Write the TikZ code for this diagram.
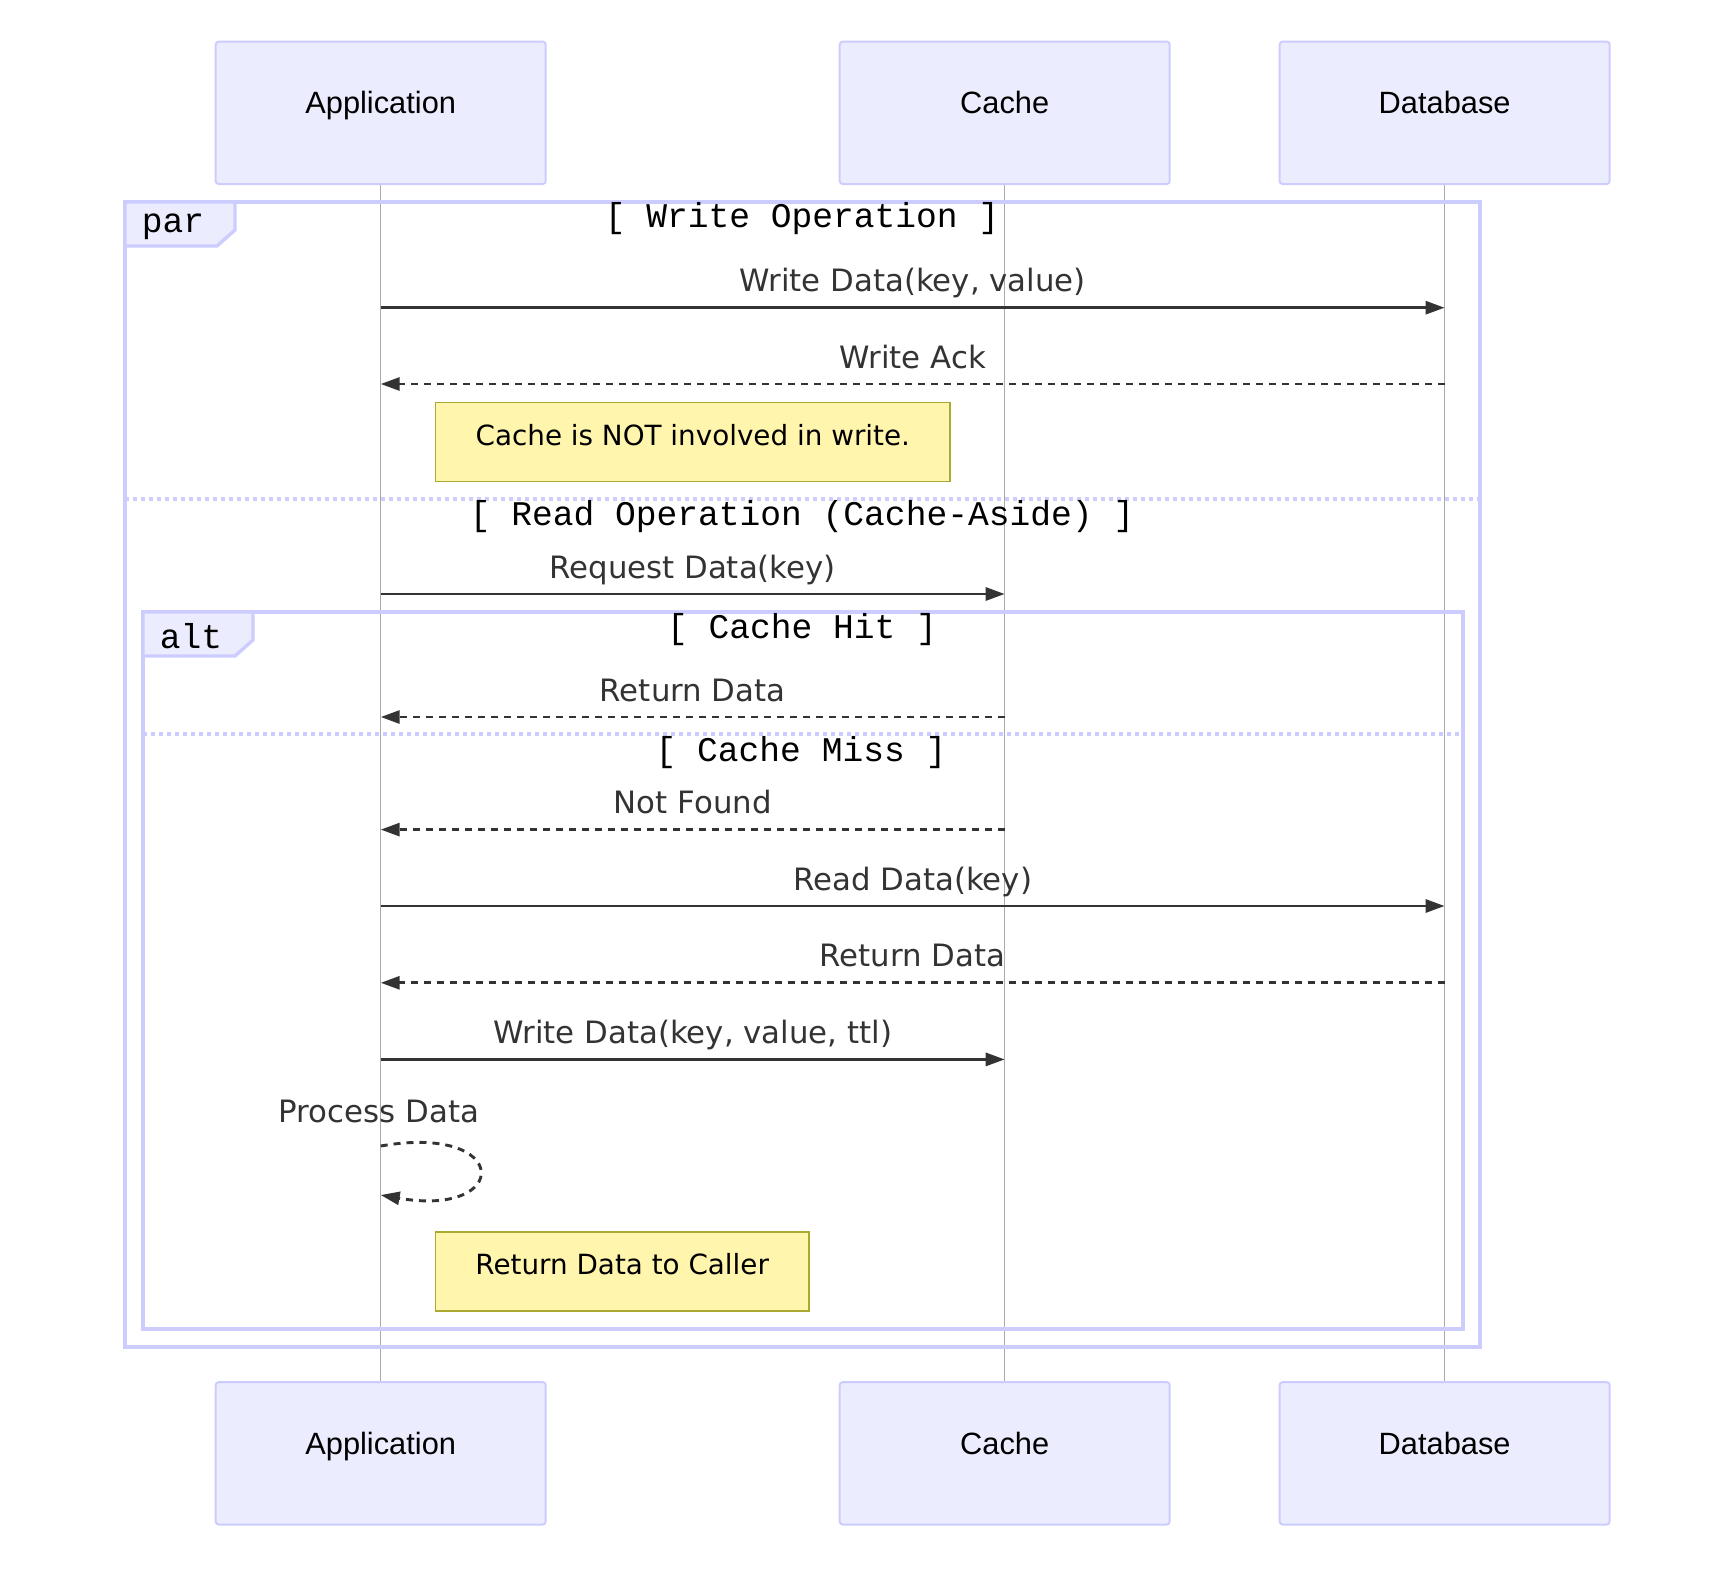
\documentclass[tikz,border=0pt]{standalone}
\usepackage{fontspec}
\setmainfont{DejaVu Sans}
\newfontfamily\actorfont{Liberation Sans}
\newfontfamily\framefont{Liberation Mono}
\usepackage{tikz}
\usetikzlibrary{arrows.meta}
\definecolor{actorfill}{HTML}{ECECFF}
\definecolor{actorline}{HTML}{CCCCFF}
\definecolor{lifegray}{HTML}{AAAAAA}
\definecolor{msgcol}{HTML}{333333}
\definecolor{notefill}{HTML}{FFF5AD}
\definecolor{noteline}{HTML}{AAAA33}
\tikzstyle{actorbox} = [draw=actorline, fill=actorfill, line width=1pt, rounded corners=1.5pt, minimum width=165pt, minimum height=71.2pt, text height=1pt, text depth=0pt, font=\actorfont\fontsize{15.4}{18}\selectfont]
\tikzstyle{lifeline} = [draw=lifegray, line width=0.75pt]
\tikzstyle{msgline} = [draw=msgcol, line width=1.45pt, -{Triangle[length=9.5pt,width=6.5pt]}]
\tikzstyle{replyline} = [msgline, dash pattern=on 3.5pt off 3pt]
\tikzstyle{msgtext} = [font=\fontsize{15.4}{18}\selectfont, text=msgcol, inner sep=0pt]
\tikzstyle{msglabel} = [msgtext, anchor=base, yshift=8pt]
\tikzstyle{sdframe} = [draw=actorline, line width=1.7pt]
\tikzstyle{sddivider} = [draw=actorline, line width=1.7pt, dash pattern=on 2pt off 2pt]
\tikzstyle{sdtag} = [font=\framefont\fontsize{17.3}{20}\selectfont, inner sep=0pt]
\tikzstyle{notebox} = [draw=noteline, fill=notefill, line width=0.75pt, text height=3pt, text depth=0pt, font=\fontsize{13.9}{16}\selectfont]

\begin{document}
\begin{tikzpicture}[x=0.5pt, y=-0.5pt]
  \useasboundingbox (0,0) rectangle (1716,1584);

  % participants
  \node[actorbox] (appTop)   at (380.7,112.8)  {Application};
  \node[actorbox] (cacheTop) at (1004.7,112.8) {Cache};
  \node[actorbox] (dbTop)    at (1444.6,112.8) {Database};
  \node[actorbox] (appBot)   at (380.7,1453.3)  {Application};
  \node[actorbox] (cacheBot) at (1004.7,1453.3) {Cache};
  \node[actorbox] (dbBot)    at (1444.6,1453.3) {Database};
  \draw[lifeline] (appTop) -- (appBot);
  \draw[lifeline] (cacheTop) -- (cacheBot);
  \draw[lifeline] (dbTop) -- (dbBot);

  % message rows
  \coordinate (m1) at (0,307.7);
  \coordinate (m2) at (0,384);
  \coordinate (m3) at (0,594);
  \coordinate (m4) at (0,717);
  \coordinate (m5) at (0,829.6);
  \coordinate (m6) at (0,906);
  \coordinate (m7) at (0,982.8);
  \coordinate (m8) at (0,1059.4);
  \coordinate (m9a) at (0,1146);
  \coordinate (m9b) at (0,1195);

  % par frame
  \draw[sdframe] (125,202) rectangle (1480,1347);
  \draw[sdframe, fill=actorfill] (125,202) -- (235,202) -- (235,230) -- (217,246) -- (125,246) -- cycle;
  \node[sdtag] (parTag) at (173,227) {par};
  \node[sdtag] (parWrite) at (802,219) {[ Write Operation ]};
  \draw[sddivider] (125,499) -- (1480,499);
  \node[sdtag] (parRead) at (802,516.5) {[ Read Operation (Cache-Aside) ]};

  \draw[msgline] (appTop |- m1) -- node[msglabel] (l1) {Write Data(key, value)} (dbTop |- m1);
  \draw[replyline] (dbTop |- m2) -- node[msglabel] (l2) {Write Ack} (appTop |- m2);
  \node[notebox, minimum width=257.2pt, minimum height=39.4pt] (note1) at (692.8,442.1) {Cache is NOT involved in write.};

  \draw[msgline] (appTop |- m3) -- node[msglabel] (l3) {Request Data(key)} (cacheTop |- m3);

  % alt frame
  \draw[sdframe] (143,612) rectangle (1463,1329);
  \draw[sdframe, fill=actorfill] (143,612) -- (253,612) -- (253,640) -- (235,656) -- (143,656) -- cycle;
  \node[sdtag] (altTag) at (191,636) {alt};
  \node[sdtag] (altHit) at (802,630) {[ Cache Hit ]};
  \draw[sddivider] (143,734) -- (1463,734);
  \node[sdtag] (altMiss) at (801,753) {[ Cache Miss ]};

  \draw[replyline] (cacheTop |- m4) -- node[msglabel] (l4) {Return Data} (appTop |- m4);
  \draw[replyline] (cacheTop |- m5) -- node[msglabel] (l5) {Not Found} (appTop |- m5);
  \draw[msgline] (appTop |- m6) -- node[msglabel] (l6) {Read Data(key)} (dbTop |- m6);
  \draw[replyline] (dbTop |- m7) -- node[msglabel] (l7) {Return Data} (appTop |- m7);
  \draw[msgline] (appTop |- m8) -- node[msglabel] (l8) {Write Data(key, value, ttl)} (cacheTop |- m8);

  % self call
  \node[msgtext, anchor=base] (l9) at (379,1122) {Process Data};
  \draw[replyline] (appTop |- m9a) .. controls +(131,-23) and +(131,23) .. (appTop |- m9b);
  \node[notebox, minimum width=186.6pt, minimum height=39.5pt] (note2) at (622.2,1271.5) {Return Data to Caller};
\end{tikzpicture}
\end{document}
